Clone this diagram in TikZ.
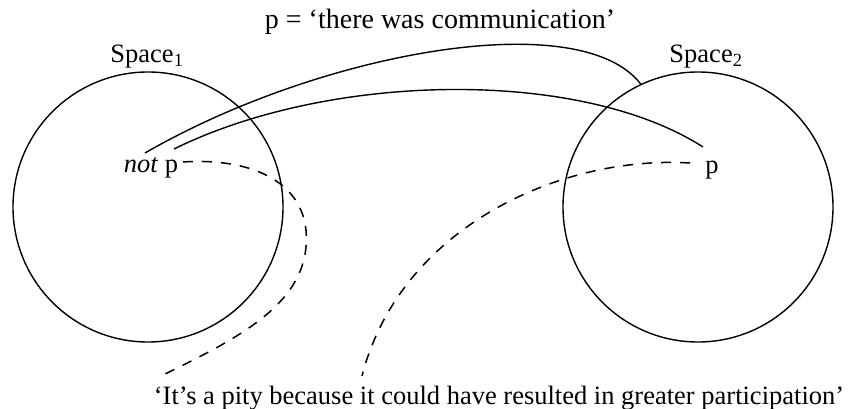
\documentclass[tikz,border=0pt]{standalone}
\usepackage{fontspec}
\setmainfont{Liberation Serif}
\begin{document}
\begin{tikzpicture}[x=1pt,y=-1pt,
  space/.style={circle,draw,line width=1.4pt,minimum size=270pt,inner sep=0pt},
  lbl/.style={inner sep=0pt,font=\fontsize{26.5}{30}\selectfont},
  link/.style={line width=1.4pt},
  note/.style={line width=1.5pt,dash pattern=on 10pt off 9pt}]
\useasboundingbox (0,0) rectangle (851,409);
\node[space] (s1) at (148,207) {};
\node[space] (s2) at (698,207) {};
\node[lbl] (l1) at (147,57) {Space\textsubscript{1}};
\node[lbl] (l2) at (706,57) {Space\textsubscript{2}};
\node[lbl,font=\fontsize{28}{32}\selectfont] (top) at (440,22) {p = ‘there was communication’};
\node[lbl] (bot) at (499,398) {‘It’s a pity because it could have resulted in greater participation’};
\node[lbl] (notp) at (151,168) {\textit{not} p};
\node[lbl] (p) at (712,170) {p};
\coordinate (a1) at (145,153);
\coordinate (a2) at (174,149);
\coordinate (b2) at (703,147);
\coordinate (d1) at (183,162);
\coordinate (e1) at (163,375);
\coordinate (d2) at (690,163);
\coordinate (e2) at (362,376);
\draw[link] (a1) .. controls (320,52) and (580,5) .. (s2.115);
\draw[link] (a2) .. controls (330,72) and (580,68) .. (b2);
\draw[note] (d1) .. controls (240,158) and (300,175) .. (306,230)
  .. controls (312,300) and (245,335) .. (e1);
\draw[note] (d2) .. controls (560,155) and (400,228) .. (e2);
\end{tikzpicture}
\end{document}
